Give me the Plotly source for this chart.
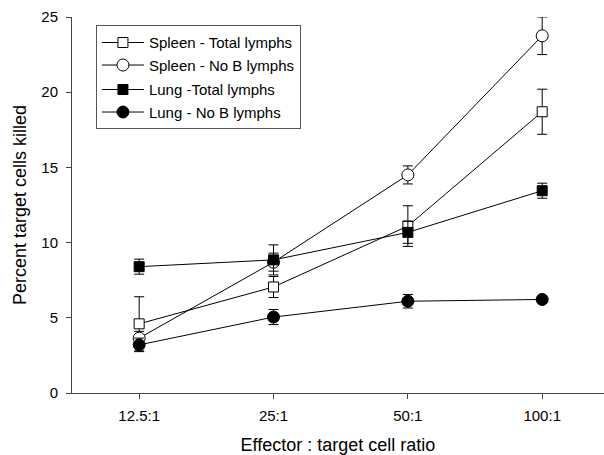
import plotly.graph_objects as go

categories = ["12.5:1", "25:1", "50:1", "100:1"]

spleen_total = [4.6, 7.05, 11.1, 18.7]
spleen_total_err = [1.8, 0.7, 1.35, 1.5]

spleen_nob = [3.65, 8.7, 14.5, 23.75]
spleen_nob_err = [0.45, 0.6, 0.6, 1.25]

lung_total = [8.4, 8.85, 10.68, 13.45]
lung_total_err = [0.5, 1.0, 0.73, 0.5]

lung_nob = [3.2, 5.05, 6.1, 6.22]
lung_nob_err = [0.45, 0.5, 0.45, 0.15]

series = [
    ("Spleen - Total lymphs", spleen_total, spleen_total_err, "square", "white", "g1", 10),
    ("Spleen - No B lymphs", spleen_nob, spleen_nob_err, "circle", "white", "g1", 12),
    ("Lung -Total lymphs", lung_total, lung_total_err, "square", "black", "g2", 10),
    ("Lung - No B lymphs", lung_nob, lung_nob_err, "circle", "black", "g2", 12),
]

fig = go.Figure()
for name, vals, errs, sym, fill, grp, size in series:
    fig.add_trace(go.Scatter(
        x=categories, y=vals, name=name, mode="lines+markers",
        legendgroup=grp,
        line=dict(color="black", width=1),
        marker=dict(symbol=sym, size=size, color=fill,
                    line=dict(color="black", width=1)),
        error_y=dict(type="data", array=errs, visible=True, color="black",
                     thickness=1, width=5),
    ))

font = "Liberation Sans, Arial, sans-serif"
fig.update_layout(
    width=604, height=455,
    margin=dict(l=72, r=0, t=17, b=62),
    paper_bgcolor="white", plot_bgcolor="white",
    font=dict(family=font, color="black", size=15),
    showlegend=True,
    legend=dict(
        x=0.045, y=0.978, xanchor="left", yanchor="top",
        bordercolor="#555", borderwidth=1, bgcolor="white",
        font=dict(size=15, family=font), tracegroupgap=2,
        itemwidth=42,
    ),
    xaxis=dict(
        type="category", range=[-0.5, 3.46], automargin=False,
        showline=True, linecolor="#444", linewidth=1,
        ticks="outside", ticklen=5, tickcolor="#444",
        showgrid=False, zeroline=False,
        tickfont=dict(size=15), ticklabelstandoff=4,
        title=dict(text="Effector : target cell ratio", font=dict(size=18), standoff=19),
    ),
    yaxis=dict(
        range=[0, 25], tickvals=[0, 5, 10, 15, 20, 25], automargin=False,
        showline=True, linecolor="#444", linewidth=1,
        ticks="outside", ticklen=5, tickcolor="#444",
        showgrid=False, zeroline=False,
        tickfont=dict(size=15), ticklabelstandoff=5,
        title=dict(text="Percent target cells killed", font=dict(size=18), standoff=10),
    ),
)

fig.write_html("out.html", config={"displayModeBar": False},
               post_script="document.body.style.margin='0';")
